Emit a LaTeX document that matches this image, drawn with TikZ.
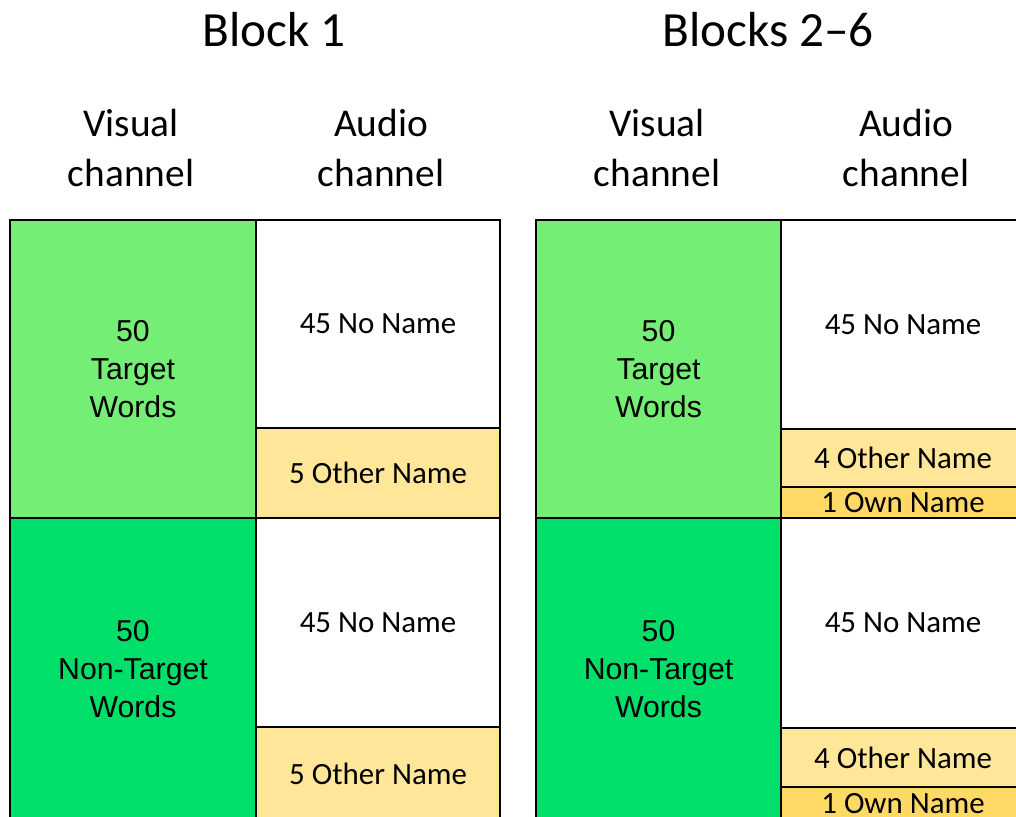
\documentclass[tikz,border=0pt]{standalone}
\usepackage{fontspec}
\setmainfont{Carlito}
\newfontfamily\arialfont{Liberation Sans}
\usetikzlibrary{calc}

\definecolor{lightgreen}{RGB}{117,238,117}
\definecolor{darkgreen}{RGB}{0,223,106}
\definecolor{lightyellow}{RGB}{255,230,153}
\definecolor{darkyellow}{RGB}{255,217,102}

\begin{document}
\begin{tikzpicture}[x=0.25mm,y=-0.25mm,
  cell/.style={draw=black,line width=1.2pt,inner sep=0pt,align=center,
    font=\fontsize{22}{26}\selectfont},
  vcell/.style={cell,minimum width=61.5mm,minimum height=74.5mm,
    font=\arialfont\fontsize{21.5}{27}\selectfont},
  acell/.style={cell,minimum width=61mm},
  title/.style={font=\fontsize{35}{40}\selectfont},
  channel/.style={align=center,font=\fontsize{28}{36}\selectfont}]
\useasboundingbox (0,0) rectangle (1016,816);
\fill[white] (0,0) rectangle (1016,816);
% headings
\node[title] (t1) at (274,30) {Block 1};
\node[title] (t2) at (768,30) {Blocks 2--6};
\node[channel] (c1v) at (131,148) {Visual\\channel};
\node[channel] (c1a) at (381,148) {Audio\\channel};
\node[channel] (c2v) at (657,148) {Visual\\channel};
\node[channel] (c2a) at (906,148) {Audio\\channel};
% block 1
\node[vcell,fill=lightgreen] (b1vt) at (133,369) {50\\Target\\Words};
\node[vcell,fill=darkgreen,minimum height=75.5mm] (b1vn) at (133,669) {50\\Non-Target\\Words};
\node[acell,fill=white,minimum height=52mm] (b1at) at (378,324) {45 No Name};
\node[acell,fill=lightyellow,minimum height=22.5mm] (b1ao) at (378,473) {5 Other Name};
\node[acell,fill=white,minimum height=52.25mm] (b1an) at (378,622.5) {45 No Name};
\node[acell,fill=lightyellow,minimum height=23.25mm] (b1ano) at (378,773.5) {5 Other Name};
% blocks 2-6
\node[vcell,fill=lightgreen,minimum width=61.25mm] (b2vt) at (658.5,369) {50\\Target\\Words};
\node[vcell,fill=darkgreen,minimum width=61.25mm,minimum height=75.5mm] (b2vn) at (658.5,669) {50\\Non-Target\\Words};
\node[acell,fill=white,minimum height=52.25mm] (b2at) at (903,324.5) {45 No Name};
\node[acell,fill=lightyellow,minimum height=14.5mm] (b2ao) at (903,458) {4 Other Name};
\node[acell,fill=darkyellow,minimum height=7.75mm] (b2aw) at (903,502.5) {1 Own Name};
\node[acell,fill=white,minimum height=52.5mm] (b2an) at (903,623) {45 No Name};
\node[acell,fill=lightyellow,minimum height=14.75mm] (b2ano) at (903,757.5) {4 Other Name};
\node[acell,fill=darkyellow,minimum height=8.25mm] (b2anw) at (903,803.5) {1 Own Name};
\end{tikzpicture}
\end{document}
